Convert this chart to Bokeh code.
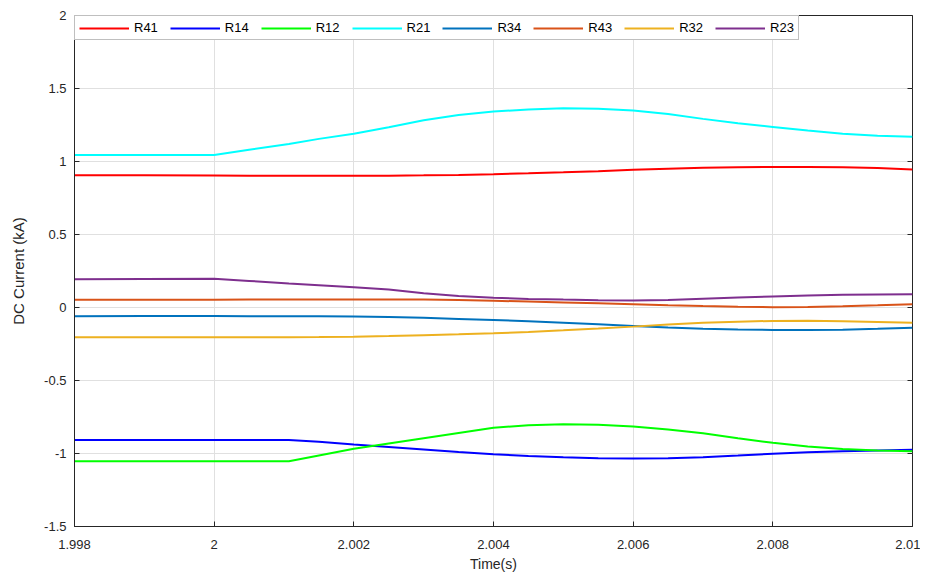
import math
from bokeh.plotting import figure
from bokeh.models import FixedTicker, Legend, LegendItem
from bokeh.embed import file_html
from bokeh.resources import INLINE

# ---- data ----
time_s = [1.998, 1.999, 2.0, 2.0005, 2.00107, 2.0015, 2.002, 2.0025, 2.003, 2.0035,
          2.004, 2.0045, 2.005, 2.0055, 2.006, 2.0065, 2.007, 2.0075, 2.008, 2.0085,
          2.009, 2.0095, 2.01]

R41 = [0.906, 0.905, 0.904, 0.903, 0.902, 0.902, 0.902, 0.903, 0.905, 0.908,
       0.913, 0.919, 0.926, 0.934, 0.943, 0.951, 0.957, 0.961, 0.963, 0.963,
       0.961, 0.955, 0.945]
R14 = [-0.908, -0.908, -0.908, -0.908, -0.908, -0.92, -0.938, -0.955, -0.972, -0.99,
       -1.005, -1.017, -1.026, -1.032, -1.035, -1.033, -1.025, -1.014, -1.002, -0.992,
       -0.985, -0.98, -0.975]
R12 = [-1.053, -1.053, -1.053, -1.053, -1.053, -1.014, -0.968, -0.932, -0.896, -0.86,
       -0.824, -0.806, -0.800, -0.803, -0.815, -0.835, -0.862, -0.895, -0.927, -0.952,
       -0.970, -0.980, -0.984]
R21 = [1.044, 1.044, 1.044, 1.08, 1.12, 1.155, 1.19, 1.235, 1.283, 1.318,
       1.342, 1.357, 1.365, 1.362, 1.349, 1.326, 1.292, 1.262, 1.237, 1.212,
       1.19, 1.177, 1.17]
R34 = [-0.06, -0.059, -0.059, -0.06, -0.06, -0.06, -0.062, -0.065, -0.071, -0.078,
       -0.085, -0.094, -0.104, -0.115, -0.126, -0.137, -0.146, -0.151, -0.154, -0.154,
       -0.152, -0.146, -0.138]
R43 = [0.053, 0.053, 0.053, 0.054, 0.054, 0.055, 0.055, 0.055, 0.054, 0.051,
       0.046, 0.041, 0.035, 0.029, 0.023, 0.016, 0.01, 0.005, 0.002, 0.003,
       0.008, 0.015, 0.023]
R32 = [-0.204, -0.204, -0.204, -0.204, -0.203, -0.202, -0.2, -0.196, -0.19, -0.184,
       -0.177, -0.167, -0.156, -0.144, -0.131, -0.117, -0.105, -0.097, -0.092, -0.091,
       -0.094, -0.099, -0.105]
R23 = [0.193, 0.195, 0.197, 0.182, 0.165, 0.153, 0.139, 0.123, 0.097, 0.079,
       0.067, 0.059, 0.054, 0.05, 0.048, 0.051, 0.06, 0.068, 0.076, 0.082,
       0.087, 0.089, 0.09]

series_names = ["R41", "R14", "R12", "R21", "R34", "R43", "R32", "R23"]
series_values = [R41, R14, R12, R21, R34, R43, R32, R23]
series_colors = ["#FF0000", "#0000FF", "#00FF00", "#00FFFF",
                 "#0072BD", "#D95319", "#EDB120", "#7E2F8E"]

x_ticks = [1.998, 2.0, 2.002, 2.004, 2.006, 2.008, 2.01]
x_tick_labels = ["1.998", "2", "2.002", "2.004", "2.006", "2.008", "2.01"]
y_ticks = [2, 1.5, 1, 0.5, 0, -0.5, -1, -1.5]
y_tick_labels = ["2", "1.5", "1", "0.5", "0", "-0.5", "-1", "-1.5"]

X_MIN, X_MAX = 1.998, 2.01
Y_MIN, Y_MAX = -1.5, 2

FONT = "Liberation Sans"
AX = "#262626"

p = figure(width=920, height=575, output_backend="svg", toolbar_location=None,
           x_range=(X_MIN, X_MAX), y_range=(Y_MIN, Y_MAX),
           min_border_left=74, min_border_right=8, min_border_top=15, min_border_bottom=49)
p.background_fill_color = "white"
p.border_fill_color = "white"
p.outline_line_color = AX
p.outline_line_width = 1

items = []
for name, vals, col in zip(series_names, series_values, series_colors):
    r = p.line(time_s, vals, line_color=col, line_width=2)
    items.append(LegendItem(label=name, renderers=[r]))

# inward ticks on the right and top edges of the box (clipped to the frame)
p.scatter(x=[X_MAX] * len(y_ticks), y=y_ticks, marker="dash", size=10,
          line_color=AX, line_width=1)
p.scatter(x=x_ticks, y=[Y_MAX] * len(x_ticks), marker="dash", size=10, angle=math.pi / 2,
          line_color=AX, line_width=1)

# axes styling
for ax, ticks, labels in ((p.xaxis[0], x_ticks, x_tick_labels), (p.yaxis[0], y_ticks, y_tick_labels)):
    ax.ticker = FixedTicker(ticks=ticks)
    ax.major_label_overrides = {t: l for t, l in zip(ticks, labels)}
    ax.major_tick_in = 5
    ax.major_tick_out = 0
    ax.minor_tick_in = 0
    ax.minor_tick_out = 0
    ax.axis_line_color = AX
    ax.major_tick_line_color = AX
    ax.major_label_text_font = FONT
    ax.major_label_text_font_size = "13px"
    ax.major_label_text_color = AX
    ax.axis_label_text_font = FONT
    ax.axis_label_text_font_style = "normal"
    ax.axis_label_text_color = AX

p.xaxis.axis_label = "Time(s)"
p.xaxis.axis_label_text_font_size = "14px"
p.xaxis.axis_label_standoff = 4
p.xaxis.major_label_standoff = 13
p.yaxis.axis_label = "DC Current (kA)"
p.yaxis.axis_label_text_font_size = "15px"
p.yaxis.axis_label_standoff = 14
p.yaxis.major_label_standoff = 8

p.xgrid.ticker = FixedTicker(ticks=x_ticks)
p.ygrid.ticker = FixedTicker(ticks=y_ticks)
p.grid.grid_line_color = "#e0e0e0"
p.grid.grid_line_alpha = 1.0
p.grid.grid_line_width = 1

legend = Legend(items=items, location="top_left", orientation="horizontal",
                glyph_width=50, glyph_height=12, label_height=12, label_standoff=5,
                spacing=12, padding=4, margin=0,
                label_text_font=FONT, label_text_font_size="13px", label_text_color="#000000",
                border_line_color="#808080", border_line_width=1,
                background_fill_color="white", background_fill_alpha=1.0)
p.add_layout(legend)

open("out.html", "w").write(file_html(p, INLINE))
